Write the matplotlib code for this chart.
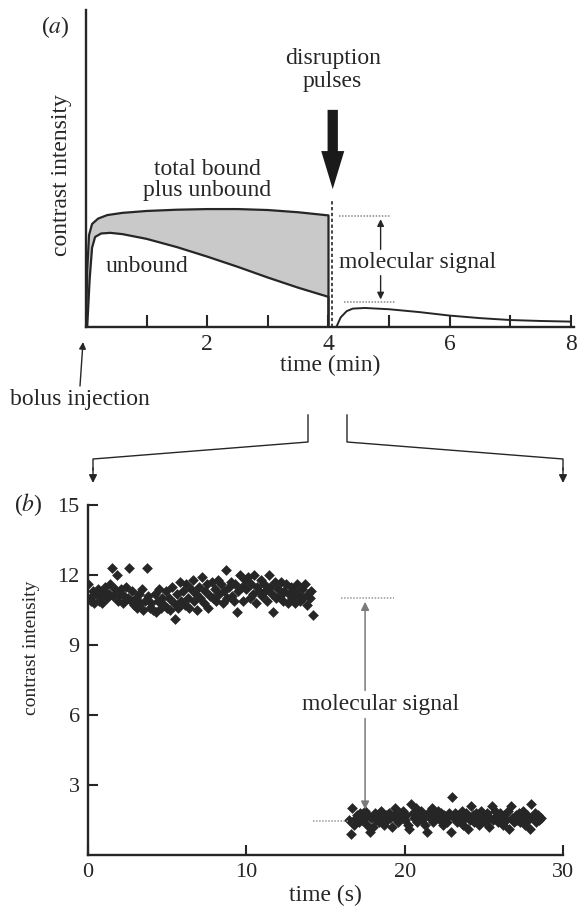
import numpy as np
import matplotlib
matplotlib.use('Agg')
import matplotlib.pyplot as plt
from matplotlib.patches import FancyArrow

plt.rcParams['font.family'] = ['Liberation Serif', 'DejaVu Serif']
plt.rcParams['mathtext.fontset'] = 'stix'

# ---- panel (a): schematic time course (time in min, arbitrary intensity) ----
t_total = [0.0, 0.02, 0.05, 0.1, 0.2, 0.35, 0.6, 1.0, 1.5, 2.0, 2.5, 3.0, 3.5, 3.8, 4.0, 4.0]
total = [0.0, 1.8, 2.9, 3.25, 3.42, 3.53, 3.6, 3.66, 3.7, 3.72, 3.72, 3.69, 3.62, 3.56, 3.52, 0.0]

t_unbound = [0.02, 0.06, 0.1, 0.15, 0.25, 0.4, 0.6, 1.0, 1.5, 2.0, 2.5, 3.0, 3.5, 4.0, 4.0]
unbound = [0.0, 1.5, 2.5, 2.84, 2.95, 2.97, 2.93, 2.78, 2.52, 2.22, 1.9, 1.56, 1.24, 0.95, 0.0]

t_after = [4.13, 4.2, 4.3, 4.4, 4.6, 5.0, 5.5, 6.0, 6.5, 7.0, 7.5, 8.0]
after = [0.0, 0.3, 0.5, 0.58, 0.6, 0.56, 0.47, 0.36, 0.28, 0.22, 0.19, 0.17]

xticks_a = [1, 2, 3, 4, 5, 6, 7, 8]
xticklabels_a = ['', '2', '', '4', '', '6', '', '8']

# ---- panel (b): measured contrast intensity (time in s) ----
dt = 0.1
start1 = 0.0
bound_plus_free = [
    11.6, 11.0, 10.9, 11.3, 10.8, 11.2, 11.4, 10.9, 11.1, 10.8,
    11.3, 11.5, 11.0, 11.2, 11.6, 12.3, 11.1, 11.4, 12.0, 10.9,
    11.2, 11.4, 10.8, 11.1, 11.5, 11.0, 12.3, 10.9, 11.3, 10.7,
    11.0, 10.6, 11.2, 10.8, 11.4, 10.5, 10.9, 12.3, 11.1, 10.6,
    10.8, 10.5, 11.2, 10.4, 10.9, 11.4, 10.6, 11.0, 10.7, 11.3,
    10.6, 11.0, 10.5, 11.5, 10.8, 10.1, 11.2, 10.6, 11.7, 10.9,
    11.3, 10.7, 11.6, 11.0, 10.6, 11.4, 11.8, 10.9, 11.2, 10.5,
    11.5, 11.0, 11.9, 10.8, 11.3, 11.6, 10.6, 11.1, 11.7, 11.0,
    11.4, 10.9, 11.8, 11.2, 11.6, 10.8, 11.3, 12.2, 11.0, 11.5,
    11.7, 11.1, 10.9, 11.6, 10.4, 11.3, 12.0, 11.5, 10.9, 11.8,
    11.4, 11.9, 11.0, 11.6, 11.2, 12.0, 10.8, 11.5, 11.3, 11.8,
    11.1, 11.6, 11.3, 10.9, 12.0, 11.5, 11.2, 10.4, 11.7, 11.0,
    11.4, 11.1, 11.7, 10.9, 11.3, 11.6, 10.8, 11.2, 11.5, 11.0,
    11.3, 10.8, 11.6, 11.1, 10.9, 11.4, 11.0, 11.6, 10.7, 11.2,
    11.0, 11.3, 10.3,
]
start2 = 16.5
after_pulses = [
    1.5, 0.9, 2.0, 1.3, 1.6,
    1.7, 1.4, 1.8, 1.5, 1.6, 1.9, 1.3, 1.7, 1.0, 1.6,
    1.2, 1.8, 1.5, 1.7, 1.4, 1.9, 1.6, 1.3, 1.7, 1.5,
    1.8, 1.6, 1.2, 1.7, 2.0, 1.5, 1.4, 1.8, 1.6, 1.9,
    1.5, 1.7, 1.3, 1.1, 2.2, 1.8, 1.6, 2.0, 1.4, 1.7,
    1.9, 1.5, 1.7, 1.3, 1.0, 1.8, 1.6, 2.0, 1.4, 1.7,
    1.6, 1.9, 1.5, 1.8, 1.3, 1.7, 1.6, 1.4, 1.8, 1.0,
    2.5, 1.6, 1.8, 1.4, 1.7, 1.5, 1.9, 1.3, 1.6, 1.8,
    1.1, 1.5, 2.1, 1.7, 1.4, 1.8, 1.6, 1.3, 1.9, 1.5,
    1.7, 1.4, 1.8, 1.2, 1.6, 2.1, 1.5, 1.9, 1.7, 1.4,
    1.8, 1.6, 1.3, 1.7, 1.5, 1.9, 1.1, 2.1, 1.6, 1.4,
    1.7, 1.5, 1.8, 1.4, 1.6, 1.9, 1.3, 1.7, 1.5, 1.1,
    2.2, 1.6, 1.8, 1.4, 1.7, 1.5, 1.6,
]
t1 = start1 + dt * np.arange(len(bound_plus_free))
t2 = start2 + dt * np.arange(len(after_pulses))

W, H = 579, 914
fig = plt.figure(figsize=(W / 100, H / 100), dpi=100)
ink = '#262626'

# ================= panel (a) =================
axa = fig.add_axes([86 / W, 1 - 327 / H, 488 / W, 317 / H])
axa.set_xlim(0, 8.05)
axa.set_ylim(0, 10)
for s in ['top', 'right']:
    axa.spines[s].set_visible(False)
for s in ['left', 'bottom']:
    axa.spines[s].set_linewidth(1.7)
    axa.spines[s].set_color(ink)

poly_x = t_total[:-1] + t_unbound[:-1][::-1]
poly_y = total[:-1] + unbound[:-1][::-1]
axa.fill(poly_x, poly_y, color='#c9c9c9', lw=0)
axa.plot(t_total, total, color=ink, lw=1.6)
axa.plot(t_unbound, unbound, color=ink, lw=1.6)
axa.plot(t_after, after, color=ink, lw=1.4)
axa.plot([4.06, 4.06], [0, 4.0], color=ink, lw=1.2, ls=(0, (2, 1.5)))

axa.set_xticks(xticks_a)
axa.set_xticklabels(xticklabels_a)
axa.set_yticks([])
axa.tick_params(axis='x', direction='in', length=9, width=1.5, color=ink,
                labelsize=17, pad=5, labelcolor=ink)
axa.set_xlabel('time (min)', fontsize=17, labelpad=0, color=ink)

axa.text(2.0, 4.64, 'total bound\nplus unbound', ha='center', va='center',
         fontsize=17, linespacing=1.0, color=ink)
axa.text(1.0, 1.9, 'unbound', ha='center', va='center', fontsize=17, color=ink)
axa.text(4.07, 8.1, 'disruption\npulses', ha='center', va='center',
         fontsize=17, linespacing=1.1, color=ink)
axa.add_patch(FancyArrow(4.07, 6.85, 0, -2.5, width=0.17, head_width=0.38,
                         head_length=1.2, length_includes_head=True,
                         color='#1a1a1a', lw=0))

# molecular signal bracket
axa.plot([4.17, 5.03], [3.5, 3.5], color='#888888', lw=1.1, ls=(0, (1, 1)))
axa.plot([4.25, 5.1], [0.8, 0.8], color='#888888', lw=1.1, ls=(0, (1, 1)))
axa.annotate('', xy=(4.86, 3.4), xytext=(4.86, 2.45),
             arrowprops=dict(arrowstyle='-|>', color=ink, lw=1.0,
                             mutation_scale=10, shrinkA=0, shrinkB=0))
axa.annotate('', xy=(4.86, 0.87), xytext=(4.86, 1.62),
             arrowprops=dict(arrowstyle='-|>', color=ink, lw=1.0,
                             mutation_scale=10, shrinkA=0, shrinkB=0))
axa.text(5.47, 2.05, 'molecular signal', ha='center', va='center', fontsize=17, color=ink)

# ================= panel (b) =================
axb = fig.add_axes([88 / W, 1 - 855 / H, 475 / W, 350 / H])
axb.set_xlim(0, 30)
axb.set_ylim(0, 15)
for s in ['top', 'right']:
    axb.spines[s].set_visible(False)
for s in ['left', 'bottom']:
    axb.spines[s].set_linewidth(1.7)
    axb.spines[s].set_color(ink)

axb.scatter(t1, bound_plus_free, marker='D', s=30, color=ink, linewidths=0)
axb.scatter(t2, after_pulses, marker='D', s=30, color=ink, linewidths=0)

axb.set_xticks([0, 10, 20, 30])
axb.set_yticks([3, 6, 9, 12, 15])
axb.tick_params(direction='in', length=7, width=1.5, color=ink, labelsize=16,
                pad=6, labelcolor=ink)
axb.set_xlabel('time (s)', fontsize=17, labelpad=2, color=ink)

grey = '#7a7a7a'
axb.plot([16.0, 19.3], [11.0, 11.0], color='#999999', lw=1.1, ls=(0, (1, 1)))
axb.plot([14.2, 16.4], [1.44, 1.44], color='#999999', lw=1.1, ls=(0, (1, 1)))
axb.annotate('', xy=(17.5, 10.85), xytext=(17.5, 7.05),
             arrowprops=dict(arrowstyle='-|>', color=grey, lw=1.1,
                             mutation_scale=12, shrinkA=0, shrinkB=0))
axb.annotate('', xy=(17.5, 1.95), xytext=(17.5, 5.85),
             arrowprops=dict(arrowstyle='-|>', color=grey, lw=1.1,
                             mutation_scale=12, shrinkA=0, shrinkB=0))
axb.text(18.5, 6.45, 'molecular signal', ha='center', va='center', fontsize=17, color=ink)

# ================= figure-level annotations (pixel coords) =================
ov = fig.add_axes([0, 0, 1, 1])
ov.set_xlim(0, W)
ov.set_ylim(H, 0)
ov.axis('off')

ov.text(55, 27, '($a$)', ha='center', va='center', fontsize=17, color=ink)
ov.text(62, 175, 'contrast intensity', ha='center', va='center',
        rotation=90, fontsize=17, color=ink)
ov.text(28, 505, '($b$)', ha='center', va='center', fontsize=17, color=ink)
ov.text(32, 648, 'contrast intensity', ha='center', va='center',
        rotation=90, fontsize=14, color=ink)
ov.text(80, 400, 'bolus injection', ha='center', va='center', fontsize=17, color=ink)
ov.annotate('', xy=(83, 342), xytext=(80, 386),
            arrowprops=dict(arrowstyle='-|>', color=ink, lw=1.0,
                            mutation_scale=10, shrinkA=0, shrinkB=0))

# zoom connector from (a) to (b)
ov.plot([308, 308, 93, 93], [415, 442, 459, 470], color=ink, lw=1.0)
ov.plot([347, 347, 563, 563], [415, 442, 459, 470], color=ink, lw=1.0)
for x in [93, 563]:
    ov.annotate('', xy=(x, 483), xytext=(x, 468),
                arrowprops=dict(arrowstyle='-|>', color=ink, lw=1.0,
                                mutation_scale=12, shrinkA=0, shrinkB=0))

fig.savefig('out.png', dpi=100)
